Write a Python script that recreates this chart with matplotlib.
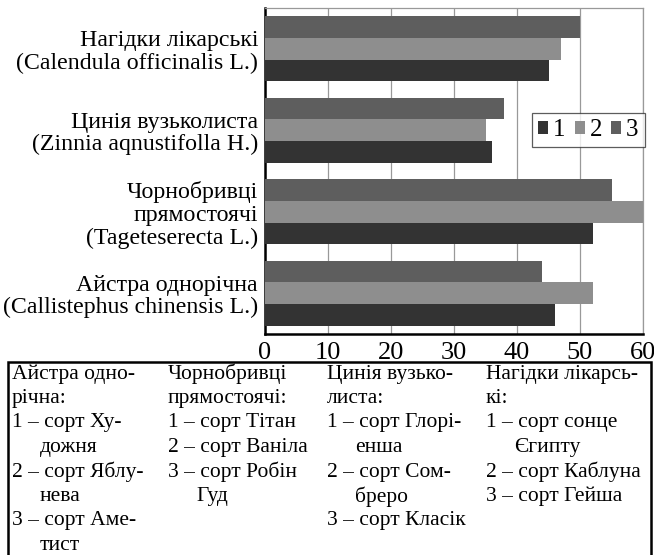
import matplotlib
matplotlib.use("Agg")
import matplotlib.pyplot as plt
import numpy as np
from matplotlib.patches import Rectangle

plt.rcParams["font.family"] = ["Liberation Serif", "DejaVu Serif"]

categories = [
    "Айстра однорічна\n(Callistephus chinensis L.)",
    "Чорнобривці\nпрямостоячі\n(Tageteserecta L.)",
    "Цинія вузьколиста\n(Zinnia aqnustifolla H.)",
    "Нагідки лікарські\n(Calendula officinalis L.)",
]
series_names = ["1", "2", "3"]
values_1 = [46, 52, 36, 45]
values_2 = [52, 60, 35, 47]
values_3 = [44, 55, 38, 50]
x_ticks = [0, 10, 20, 30, 40, 50, 60]

# explanation table under the chart: (text, continuation line?)
notes = [
    [("Айстра одно-", False), ("річна:", False), ("1 – сорт Ху-", False),
     ("дожня", True), ("2 – сорт Яблу-", False), ("нева", True),
     ("3 – сорт Аме-", False), ("тист", True)],
    [("Чорнобривці", False), ("прямостоячі:", False), ("1 – сорт Тітан", False),
     ("2 – сорт Ваніла", False), ("3 – сорт Робін", False), ("Гуд", True)],
    [("Цинія вузько-", False), ("листа:", False), ("1 – сорт Глорі-", False),
     ("енша", True), ("2 – сорт Сом-", False), ("бреро", True),
     ("3 – сорт Класік", False)],
    [("Нагідки лікарсь-", False), ("кі:", False), ("1 – сорт сонце", False),
     ("Єгипту", True), ("2 – сорт Каблуна", False), ("3 – сорт Гейша", False)],
]

colors = ["#333333", "#8e8e8e", "#5e5e5e"]

W, H, dpi = 654, 555, 100
fig = plt.figure(figsize=(W / dpi, H / dpi), dpi=dpi)
ax = fig.add_axes([265 / W, 1 - 334 / H, (643 - 265) / W, (334 - 8) / H])

y = np.arange(len(categories))
bh = 0.265
for i, vals in enumerate([values_1, values_2, values_3]):
    ax.barh(y + (i - 1) * bh, vals, height=bh, color=colors[i],
            label=series_names[i], zorder=3)

ax.set_xlim(0, 60)
ax.set_ylim(-0.5, 3.5)
ax.set_xticks(x_ticks)
ax.set_xticklabels([str(t) for t in x_ticks], fontsize=19)
ax.set_yticks(y)
ax.set_yticklabels(categories, fontsize=17.2, linespacing=1.1)
ax.tick_params(length=0)
ax.tick_params(axis="y", pad=5)
ax.tick_params(axis="x", pad=6)
ax.xaxis.grid(True, color="#999999", linewidth=0.9, zorder=0)
for s in ["top", "right"]:
    ax.spines[s].set_color("#999999")
    ax.spines[s].set_linewidth(0.9)
for s in ["left", "bottom"]:
    ax.spines[s].set_color("black")
    ax.spines[s].set_linewidth(1.8)

leg = ax.legend(ncol=3, loc="upper left", bbox_to_anchor=(267 / 378, 1 - 105 / 326),
                fontsize=18, frameon=True, fancybox=False, handlelength=0.4,
                handleheight=0.4, handletextpad=0.2, columnspacing=0.35,
                borderpad=0.25, borderaxespad=0)
leg.get_frame().set_edgecolor("#333333")
leg.get_frame().set_linewidth(0.9)

# table box (bottom edge runs off the picture)
fig.patches.append(Rectangle((8 / W, -0.05), (651 - 8) / W, 0.05 + 1 - 362 / H,
                             transform=fig.transFigure, fill=False,
                             edgecolor="black", linewidth=1.8, zorder=5))
col_x = [12, 168, 327, 486]
row_y0, row_dy = 374, 24.5
for cx, col in zip(col_x, notes):
    for r, (txt, cont) in enumerate(col):
        fig.text((cx + (28 if cont else 0)) / W, 1 - (row_y0 + r * row_dy) / H,
                 txt, fontsize=15.5, va="center", ha="left")

fig.savefig("out.png", dpi=dpi)
